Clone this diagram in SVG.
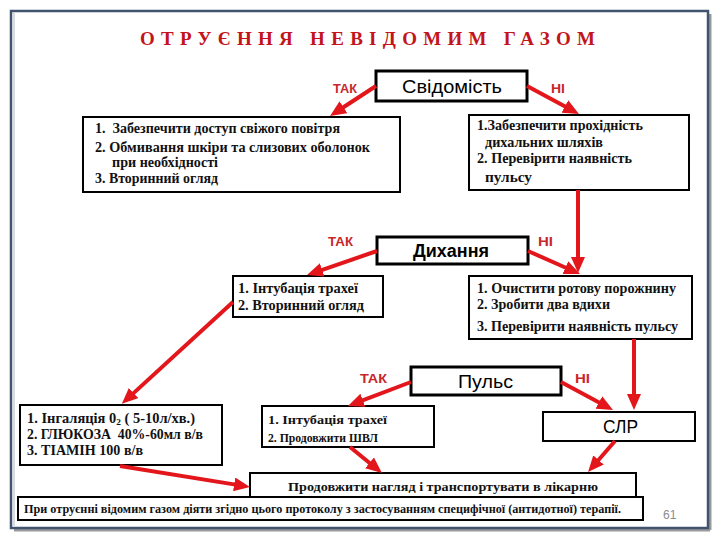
<svg xmlns="http://www.w3.org/2000/svg" width="720" height="540" viewBox="0 0 720 540">
<style>
.frame{fill:#ffffff;stroke:#41546f;stroke-width:2.5}
.box{fill:#ffffff;stroke:#000000;stroke-width:2}
.lbox{fill:#ffffff;stroke:#000000;stroke-width:3}
.t{font-family:'Liberation Serif','DejaVu Serif',serif;font-weight:700;font-size:14px;fill:#111111}
.ts{font-family:'Liberation Serif','DejaVu Serif',serif;font-weight:700;font-size:13px;fill:#111111}
.lab{font-family:'Liberation Sans',Arial,sans-serif;font-size:18px;fill:#000000}
.yn{font-family:'Liberation Sans',Arial,sans-serif;font-weight:700;font-size:12.5px;fill:#c8262b}
.title{font-family:'Liberation Serif','DejaVu Serif',serif;font-weight:700;font-size:19px;fill:#c3141c}
.arr{stroke:#e3161b;stroke-width:4;fill:none;marker-end:url(#ah)}
</style>
<defs>
<marker id="ah" markerUnits="userSpaceOnUse" markerWidth="16" markerHeight="14" refX="6" refY="7" orient="auto">
<path d="M0,0 L16,7 L0,14 z" fill="#e3161b"/>
</marker>
</defs>
<rect x="0" y="0" width="720" height="540" fill="#ffffff"/>
<line x1="710" y1="14" x2="710" y2="530" stroke="#9a9a9a" stroke-width="3"/>
<line x1="14" y1="530" x2="710" y2="530" stroke="#9a9a9a" stroke-width="3"/>
<rect class="frame" x="11" y="11" width="697" height="517"/>
<line x1="14" y1="13" x2="14" y2="527" stroke="#d8dbe0" stroke-width="2"/>

<text class="title" x="140" y="45" textLength="455" lengthAdjust="spacing">ОТРУЄННЯ НЕВІДОМИМ ГАЗОМ</text>

<g id="svidomist">
<rect class="lbox" x="376" y="71" width="151" height="30"/>
<text class="lab" x="402" y="93" textLength="100" lengthAdjust="spacingAndGlyphs">Свідомість</text>
<text class="yn" x="333" y="93" textLength="24" lengthAdjust="spacingAndGlyphs">ТАК</text>
<text class="yn" x="551" y="93" textLength="14" lengthAdjust="spacingAndGlyphs">НІ</text>
</g>

<g id="box1">
<rect class="box" x="83" y="117" width="317" height="75"/>
<text class="t" x="95" y="133" textLength="245" lengthAdjust="spacingAndGlyphs">1.&#160; Забезпечити доступ свіжого повітря</text>
<text class="t" x="95" y="152" textLength="275" lengthAdjust="spacingAndGlyphs">2. Обмивання шкіри та слизових оболонок</text>
<text class="t" x="112" y="167" textLength="106" lengthAdjust="spacingAndGlyphs">при необхідності</text>
<text class="t" x="95" y="183" textLength="123" lengthAdjust="spacingAndGlyphs">3. Вторинний огляд</text>
</g>

<g id="box2">
<rect class="box" x="469" y="115" width="220" height="75"/>
<text class="t" x="477" y="130" textLength="166" lengthAdjust="spacingAndGlyphs">1.Забезпечити прохідність</text>
<text class="t" x="485" y="147" textLength="118" lengthAdjust="spacingAndGlyphs">дихальних шляхів</text>
<text class="t" x="477" y="163" textLength="155" lengthAdjust="spacingAndGlyphs">2. Перевірити наявність</text>
<text class="t" x="485" y="182" textLength="47" lengthAdjust="spacingAndGlyphs">пульсу</text>
</g>

<g id="dykhannia">
<rect class="lbox" x="377" y="237" width="151" height="27"/>
<text class="lab" x="413" y="257" font-weight="700" textLength="76" lengthAdjust="spacingAndGlyphs">Дихання</text>
<text class="yn" x="328" y="246" textLength="25" lengthAdjust="spacingAndGlyphs">ТАК</text>
<text class="yn" x="538" y="246" textLength="15" lengthAdjust="spacingAndGlyphs">НІ</text>
</g>

<g id="box3">
<rect class="box" x="233" y="276" width="150" height="41"/>
<text class="t" x="238" y="293" textLength="120" lengthAdjust="spacingAndGlyphs">1. Інтубація трахеї</text>
<text class="t" x="238" y="310" textLength="126" lengthAdjust="spacingAndGlyphs">2. Вторинний огляд</text>
</g>

<g id="box4">
<rect class="box" x="469" y="276" width="223" height="63"/>
<text class="t" x="477" y="293" textLength="199" lengthAdjust="spacingAndGlyphs">1. Очистити ротову порожнину</text>
<text class="t" x="477" y="309" textLength="133" lengthAdjust="spacingAndGlyphs">2. Зробити два вдихи</text>
<text class="t" x="477" y="331" textLength="201" lengthAdjust="spacingAndGlyphs">3. Перевірити наявність пульсу</text>
</g>

<g id="puls">
<rect class="lbox" x="411" y="367" width="150" height="28"/>
<text class="lab" x="458" y="388" textLength="55" lengthAdjust="spacingAndGlyphs">Пульс</text>
<text class="yn" x="360" y="383" textLength="27" lengthAdjust="spacingAndGlyphs">ТАК</text>
<text class="yn" x="575" y="383" textLength="15" lengthAdjust="spacingAndGlyphs">НІ</text>
</g>

<g id="box5">
<rect class="box" x="20" y="405" width="202" height="60"/>
<text class="t" x="27" y="423" textLength="168" lengthAdjust="spacingAndGlyphs">1. Інгаляція 0<tspan font-size="9" dy="2">2</tspan><tspan dy="-2"> ( 5-10л/хв.)</tspan></text>
<text class="t" x="27" y="439" textLength="176" lengthAdjust="spacingAndGlyphs">2. ГЛЮКОЗА&#160; 40%-60мл в/в</text>
<text class="t" x="27" y="455" textLength="116" lengthAdjust="spacingAndGlyphs">3. ТІАМІН 100 в/в</text>
</g>

<g id="box6">
<rect class="box" x="262" y="406" width="172" height="41"/>
<text class="ts" x="268" y="424" textLength="119" lengthAdjust="spacingAndGlyphs">1. Інтубація трахеї</text>
<text class="ts" x="268" y="442" textLength="110" lengthAdjust="spacingAndGlyphs">2. Продовжити ШВЛ</text>
</g>

<g id="slr">
<rect class="box" x="543" y="412" width="152" height="29"/>
<text class="lab" x="603" y="433" textLength="35" lengthAdjust="spacingAndGlyphs">СЛР</text>
</g>

<g id="transport">
<rect class="box" x="250" y="473" width="386" height="26"/>
<text class="ts" x="288" y="491" textLength="310" lengthAdjust="spacingAndGlyphs">Продовжити нагляд і транспортувати в лікарню</text>
</g>

<g id="footer">
<rect class="box" x="18" y="497" width="625" height="23"/>
<text class="ts" x="24" y="513" font-size="12" textLength="597" lengthAdjust="spacingAndGlyphs">При отруєнні відомим газом діяти згідно цього протоколу з застосуванням специфічної (антидотної) терапії.</text>
</g>

<text x="663" y="519" font-family="'Liberation Sans',Arial,sans-serif" font-size="12" fill="#8c8c8c">61</text>

<g id="connectors">
<line class="arr" x1="376" y1="86" x2="338.4" y2="110.5"/>
<line class="arr" x1="527" y1="86" x2="570.2" y2="109.3"/>
<line class="arr" x1="578" y1="190" x2="578" y2="263"/>
<line class="arr" x1="377" y1="251" x2="316.5" y2="271.8"/>
<line class="arr" x1="528" y1="251" x2="570.9" y2="270"/>
<line class="arr" x1="233" y1="302" x2="129.2" y2="397.1"/>
<line class="arr" x1="411" y1="382" x2="357.3" y2="402.4"/>
<line class="arr" x1="561" y1="382" x2="604.2" y2="405.3"/>
<line class="arr" x1="634" y1="339" x2="634" y2="400"/>
<line class="arr" x1="120" y1="466" x2="240.1" y2="485.4"/>
<line class="arr" x1="350" y1="447" x2="374.2" y2="466.7"/>
<line class="arr" x1="615" y1="441" x2="594.6" y2="464.5"/>
</g>
</svg>
